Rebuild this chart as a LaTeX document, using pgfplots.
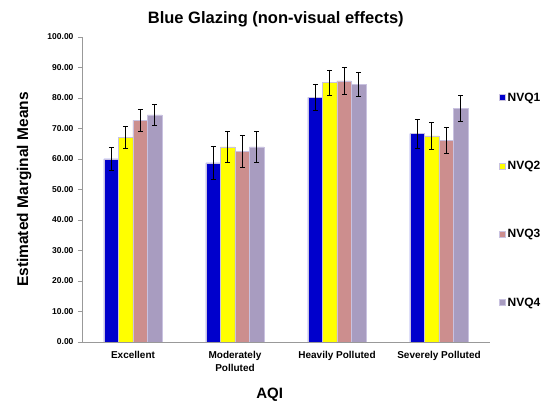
\documentclass[border=0pt]{standalone}
\usepackage{pgfplots}
\pgfplotsset{compat=1.18}
\usepackage{fontspec}
\setmainfont{Liberation Sans}

\definecolor{nvqa}{HTML}{0000CC}
\definecolor{nvqb}{HTML}{FFFF00}
\definecolor{nvqc}{HTML}{CC8E8E}
\definecolor{nvqd}{HTML}{A89CC0}
\definecolor{edge}{HTML}{C9C2E0}

% means and half-widths of the error bars
\pgfplotstableread{
x  m1   e1   m2   e2   m3   e3   m4   e4
0  60.0 3.8  67.0 3.6  72.7 3.6  74.5 3.5
1  58.7 5.4  64.0 5.1  62.6 5.2  64.0 5.0
2  80.2 4.4  85.0 4.2  85.6 4.3  84.4 4.0
3  68.3 4.7  67.6 4.4  66.1 4.3  76.5 4.2
}\means

\begin{document}
\begin{tikzpicture}
\path[use as bounding box] (-82pt,-59pt) rectangle (470pt,342pt);
\begin{axis}[
    at={(0,0)}, anchor=south west,
    scale only axis,
    width=408pt, height=305pt,
    ybar=0pt, bar width=14.5pt,
    xmin=-0.5, xmax=3.5,
    ymin=0, ymax=100,
    axis lines*=left,
    axis line style={gray!80, line width=0.6pt},
    xtick=data,
    xticklabels={Excellent, {Moderately\\Polluted}, Heavily Polluted, Severely Polluted},
    x tick style={draw=none},
    xticklabel style={align=center, font=\bfseries\fontsize{10}{12.5}\selectfont, yshift=-2pt},
    ytick={0,10,...,100},
    y tick style={gray!80, line width=0.6pt},
    tick align=outside,
    major tick length=4pt,
    yticklabel style={font=\bfseries\fontsize{8.5}{10}\selectfont, xshift=-1pt},
    /pgf/number format/assume math mode=true,
    /pgf/number format/.cd, fixed, fixed zerofill, precision=2,
    /pgfplots/.cd,
    title={Blue Glazing (non-visual effects)},
    title style={at={(axis description cs:0.475,1.039)}, anchor=center, yshift=0pt, font=\bfseries\fontsize{16.5}{19}\selectfont},
    xlabel={AQI},
    xlabel style={at={(axis description cs:0.46,-0.172)}, anchor=center, font=\bfseries\fontsize{15}{18}\selectfont},
    ylabel={Estimated Marginal Means},
    ylabel style={at={(axis description cs:-0.142,0.5)}, anchor=center, font=\bfseries\fontsize{15.5}{18}\selectfont},
    legend style={at={(1.0,0.465)}, anchor=west, xshift=6pt, draw=none, fill=none,
        font=\bfseries\fontsize{12}{14}\selectfont, row sep=54.5pt,
        /tikz/every even column/.append style={column sep=2pt}},
    legend image code/.code={\fill[#1] (0pt,-3pt) rectangle (6pt,3pt);},
    error bars/y dir=both, error bars/y explicit,
    error bars/error mark options={black, line width=0.8pt, mark size=2.4pt, rotate=90},
    error bars/error bar style={black, line width=0.8pt},
]
\addplot[fill=nvqa, draw=edge, line width=0.5pt] table[x=x, y=m1, y error=e1] {\means};
\addlegendentry{NVQ1}
\addplot[fill=nvqb, draw=edge, line width=0.5pt] table[x=x, y=m2, y error=e2] {\means};
\addlegendentry{NVQ2}
\addplot[fill=nvqc, draw=edge, line width=0.5pt] table[x=x, y=m3, y error=e3] {\means};
\addlegendentry{NVQ3}
\addplot[fill=nvqd, draw=edge, line width=0.5pt] table[x=x, y=m4, y error=e4] {\means};
\addlegendentry{NVQ4}
\end{axis}
\end{tikzpicture}
\end{document}
